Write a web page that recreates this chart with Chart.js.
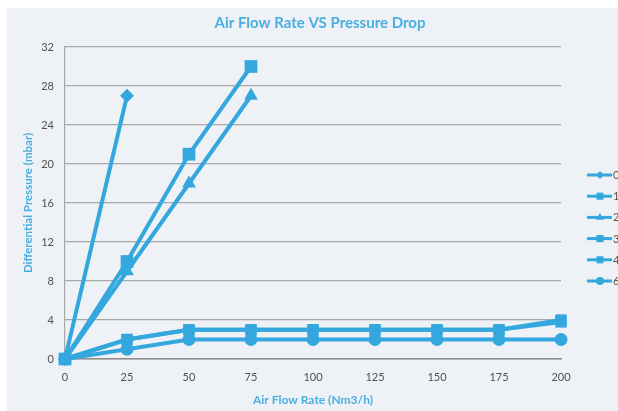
<!DOCTYPE html>
<html>
<head>
<meta charset="utf-8">
<script src="https://cdn.jsdelivr.net/npm/chart.js@4.4.1/dist/chart.umd.min.js"></script>
<style>
  html, body { margin: 0; padding: 0; background: #ffffff; overflow: hidden; }
  #wrap { position: absolute; left: 0; top: 0; width: 618px; height: 411px; }
</style>
</head>
<body>
<div id="wrap"><canvas id="c" width="618" height="411"></canvas></div>
<script>
// ---- data ----
const chartTitle = 'Air Flow Rate VS Pressure Drop';
const flowRates = [0, 25, 50, 75, 100, 125, 150, 175, 200];
const seriesNames = ['0', '1', '2', '3', '4', '6'];
const s0 = [0, 27];
const s1 = [0, 10, 21, 30];
const s2 = [0, 9, 18, 27];
const s3 = [0, 2, 3, 3, 3, 3, 3, 3, 3.8];
const s4 = [0, 2, 3, 3, 3, 3, 3, 3, 4];
const s6 = [0, 1, 2, 2, 2, 2, 2, 2, 2];
const yTicks = [0, 4, 8, 12, 16, 20, 24, 28, 32];

const BLUE = '#34a8de';
const TITLE_BLUE = '#4aaee0';
const FONT = 'Lato, "Open Sans", sans-serif';

function pts(vals) { return vals.map((v, i) => ({ x: flowRates[i], y: v })); }

const styles = [
  { pointStyle: 'rectRot', pointRadius: 7, legendRadius: 4 },
  { pointStyle: 'rect', pointRadius: 9, legendRadius: 5 },
  { pointStyle: 'triangle', pointRadius: 8, legendRadius: 4.5 },
  { pointStyle: 'rect', pointRadius: 8, legendRadius: 5 },
  { pointStyle: 'rect', pointRadius: 8, legendRadius: 5 },
  { pointStyle: 'circle', pointRadius: 6.5, legendRadius: 4 }
];
const seriesValues = [s0, s1, s2, s3, s4, s6];

const datasets = seriesValues.map((vals, i) => ({
  label: seriesNames[i],
  data: pts(vals),
  borderColor: BLUE,
  backgroundColor: BLUE,
  borderWidth: 4,
  pointStyle: styles[i].pointStyle,
  pointRadius: styles[i].pointRadius,
  pointHoverRadius: styles[i].pointRadius,
  pointBorderWidth: 0,
  pointBackgroundColor: BLUE,
  tension: 0,
  clip: false,
  legendRadius: styles[i].legendRadius
}));

const bgPlugin = {
  id: 'bg',
  beforeDraw(chart) {
    const ctx = chart.ctx;
    ctx.save();
    ctx.fillStyle = '#eef2f6';
    ctx.fillRect(7, 8, chart.width - 7, chart.height - 8);
    ctx.fillStyle = TITLE_BLUE;
    ctx.font = 'bold 15px ' + FONT;
    ctx.textAlign = 'center';
    ctx.textBaseline = 'middle';
    ctx.fillText(chartTitle, 320, 23);
    ctx.restore();
  }
};

const legendPlugin = {
  id: 'sideLegend',
  afterDraw(chart) {
    const ctx = chart.ctx;
    ctx.save();
    chart.data.datasets.forEach((ds, i) => {
      const y = 175 + i * 21.2;
      ctx.strokeStyle = ds.borderColor;
      ctx.lineWidth = 3;
      ctx.beginPath();
      ctx.moveTo(587, y);
      ctx.lineTo(612, y);
      ctx.stroke();
      ctx.fillStyle = ds.borderColor;
      Chart.helpers.drawPoint(ctx, { pointStyle: ds.pointStyle, radius: ds.legendRadius, rotation: 0, borderWidth: 0 }, 600, y);
      ctx.fillStyle = '#555555';
      ctx.font = '11px ' + FONT;
      ctx.textBaseline = 'middle';
      ctx.textAlign = 'left';
      ctx.fillText(ds.label, 613, y + 0.5);
    });
    ctx.restore();
  }
};

new Chart(document.getElementById('c'), {
  type: 'line',
  data: { datasets },
  plugins: [bgPlugin, legendPlugin],
  options: {
    responsive: false,
    animation: false,
    events: [],
    layout: { padding: { left: 0, right: 57, top: 47, bottom: 0 } },
    plugins: {
      legend: { display: false },
      tooltip: { enabled: false },
      title: { display: false }
    },
    scales: {
      x: {
        type: 'linear',
        min: 0,
        max: 200,
        afterBuildTicks(scale) { scale.ticks = flowRates.map(v => ({ value: v })); },
        afterFit(scale) { scale.height = 52; },
        ticks: {
          color: '#505050',
          font: { family: FONT, size: 11 },
          padding: 12,
          maxRotation: 0
        },
        grid: { display: false, drawTicks: false },
        border: { display: true, color: '#8c8c8c', width: 1.5 },
        title: {
          display: true,
          text: 'Air Flow Rate (Nm3/h)',
          color: TITLE_BLUE,
          font: { family: FONT, size: 12, weight: 'bold' },
          padding: { top: 0, bottom: 4 }
        }
      },
      y: {
        type: 'linear',
        min: 0,
        max: 32,
        afterBuildTicks(scale) { scale.ticks = yTicks.map(v => ({ value: v })); },
        afterFit(scale) { scale.width = 65; },
        ticks: {
          color: '#505050',
          font: { family: FONT, size: 11 },
          padding: 11
        },
        grid: { color: '#a8a8a8', lineWidth: 1.2, drawTicks: false },
        border: { display: true, color: '#a8a8a8', width: 1.2 },
        title: {
          display: true,
          text: 'Differential Pressure (mbar)',
          color: TITLE_BLUE,
          font: { family: FONT, size: 11.5, weight: 'bold' },
          padding: { top: 21, bottom: 0 }
        }
      }
    }
  }
});
</script>
</body>
</html>
